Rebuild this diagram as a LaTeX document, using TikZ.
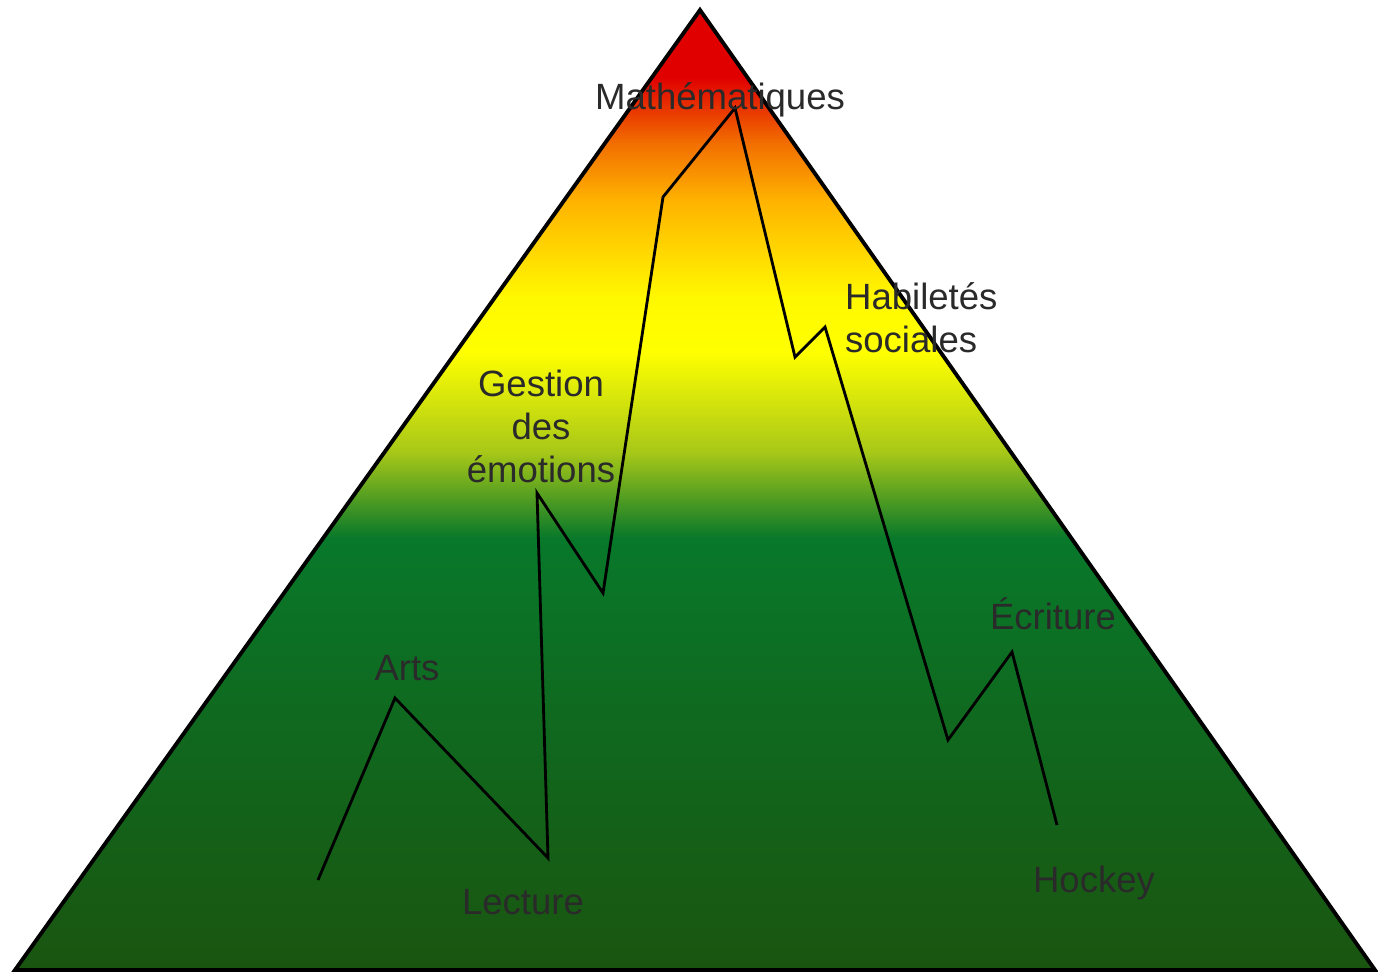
\documentclass[tikz,border=0pt]{standalone}
\usepackage{fontspec}
\setmainfont{Liberation Sans}
\usepackage{tikz}

\definecolor{pyrred}{HTML}{E00000}
\definecolor{pyrorange}{HTML}{F27000}
\definecolor{pyrgold}{HTML}{FFB400}
\definecolor{pyryellow}{HTML}{FFFF00}
\definecolor{pyrlime}{HTML}{A8C818}
\definecolor{pyrgreen}{HTML}{08782A}
\definecolor{pyrdark}{HTML}{1A5510}
\definecolor{labelgray}{HTML}{2A2A2A}

\pgfdeclareverticalshading{pyramid}{100bp}{
  color(0bp)=(pyrdark); color(25bp)=(pyrdark);
  color(47.5bp)=(pyrgreen); color(52bp)=(pyrlime);
  color(57.2bp)=(pyryellow); color(60bp)=(pyryellow!95!orange);
  color(65bp)=(pyrgold); color(68bp)=(pyrorange);
  color(71.5bp)=(pyrred); color(75bp)=(pyrred); color(100bp)=(pyrred)}

\tikzset{subject/.style={text=labelgray, font=\fontsize{20.8}{24.5}\selectfont, inner sep=1pt}}

\begin{document}
\begin{tikzpicture}[x=0.02cm,y=-0.02cm]
\useasboundingbox (0,0) rectangle (1378,975);
\draw[line width=2.2pt, line join=miter, shading=pyramid] (700,10) -- (15,970) -- (1375,970) -- cycle;

\coordinate (start) at (318,880);
\coordinate (arts) at (395,698);
\coordinate (lect) at (548,858);
\coordinate (gest) at (537,493);
\coordinate (dip) at (603,593);
\coordinate (bend) at (663,197);
\coordinate (math) at (735,108);
\coordinate (hdip) at (795,357);
\coordinate (hab) at (825,327);
\coordinate (edip) at (948,740);
\coordinate (ecr) at (1012,652);
\coordinate (hock) at (1057,825);
\draw[line width=1.6pt, line join=miter] (start) -- (arts) -- (lect) -- (gest) -- (dip) -- (bend) -- (math)
	-- (hdip) -- (hab) -- (edip) -- (ecr) -- (hock);

\node [subject] (lmath) at (720,100) {Mathématiques};
\node [subject, anchor=west, align=left] (lhab) at (843,318) {Habiletés\\sociales};
\node [subject, align=center] (lgest) at (541,426) {Gestion\\des\\émotions};
\node [subject] (larts) at (407,668) {Arts};
\node [subject] (llect) at (523,902) {Lecture};
\node [subject] (lecr) at (1053,614) {Écriture};
\node [subject] (lhock) at (1094,883) {Hockey};
\end{tikzpicture}
\end{document}
